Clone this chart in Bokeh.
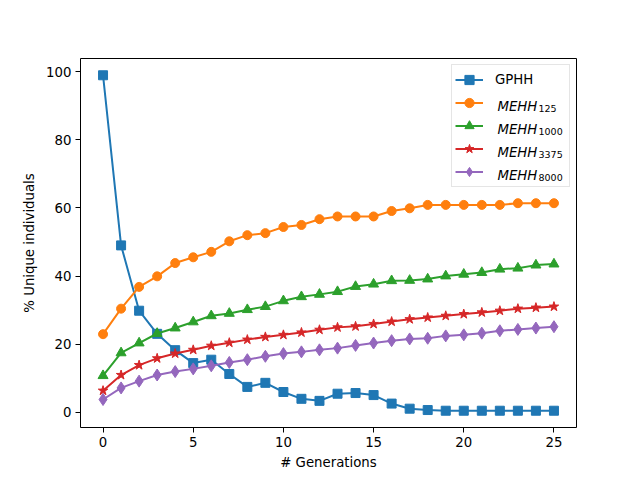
from bokeh.plotting import figure
from bokeh.models import Range1d, Legend, LegendItem, Label, FixedTicker
from bokeh.embed import file_html
from bokeh.resources import INLINE

generations = list(range(26))
gphh = [99.0, 49.0, 29.8, 23.0, 18.2, 14.4, 15.4, 11.2, 7.4, 8.6, 5.9, 3.9, 3.3,
        5.4, 5.6, 5.0, 2.5, 1.0, 0.6, 0.4, 0.4, 0.4, 0.4, 0.4, 0.4, 0.4]
mehh125 = [22.9, 30.4, 36.8, 39.9, 43.8, 45.5, 47.1, 50.2, 52.0, 52.6, 54.4, 55.0, 56.7,
           57.5, 57.5, 57.5, 59.1, 59.9, 60.9, 60.9, 60.9, 60.9, 60.9, 61.4, 61.4, 61.4]
mehh1000 = [10.7, 17.4, 20.3, 23.1, 24.7, 26.5, 28.3, 29.0, 30.1, 31.0, 32.7, 33.9, 34.6,
            35.4, 36.9, 37.6, 38.6, 38.7, 39.1, 40.0, 40.5, 41.0, 42.0, 42.3, 43.2, 43.5]
mehh3375 = [6.3, 10.9, 13.8, 15.8, 17.2, 18.3, 19.5, 20.4, 21.3, 22.1, 22.7, 23.4, 24.2,
            24.9, 25.2, 25.9, 26.6, 27.3, 27.8, 28.3, 28.8, 29.3, 29.8, 30.4, 30.7, 31.0]
mehh8000 = [3.7, 7.1, 9.1, 10.9, 11.9, 12.7, 13.6, 14.6, 15.4, 16.4, 17.2, 17.7, 18.3,
            18.8, 19.6, 20.3, 21.0, 21.5, 21.7, 22.4, 22.7, 23.2, 23.9, 24.3, 24.7, 25.1]

series = [
    ("GPHH", None, gphh, "#1f77b4", "square", 9),
    ("MEHH", "125", mehh125, "#ff7f0e", "circle", 9),
    ("MEHH", "1000", mehh1000, "#2ca02c", "triangle", 10),
    ("MEHH", "3375", mehh3375, "#d62728", "star", 10),
    ("MEHH", "8000", mehh8000, "#9467bd", "diamond", 12),
]

x_ticks = [0, 5, 10, 15, 20, 25]
y_ticks = [0, 20, 40, 60, 80, 100]

all_y = gphh + mehh125 + mehh1000 + mehh3375 + mehh8000
ymin, ymax = min(all_y), max(all_y)
ypad = 0.05 * (ymax - ymin)
xmin, xmax = min(generations), max(generations)
xpad = 0.05 * (xmax - xmin)

FONT = "DejaVu Sans"

p = figure(width=640, height=480, output_backend="svg", toolbar_location=None,
           x_range=Range1d(xmin - xpad, xmax + xpad),
           y_range=Range1d(ymin - ypad, ymax + ypad),
           min_border_left=80, min_border_right=64, min_border_top=58, min_border_bottom=53)
p.xgrid.visible = False
p.ygrid.visible = False
p.outline_line_color = "black"
p.outline_line_width = 1
p.background_fill_color = "white"
p.border_fill_color = "white"

for ax in (p.xaxis[0], p.yaxis[0]):
    ax.axis_line_color = None
    ax.major_tick_out = 5
    ax.major_tick_in = 0
    ax.minor_tick_line_color = None
    ax.major_tick_line_color = "black"
    ax.major_label_text_font = FONT
    ax.major_label_text_font_size = "13.3px"
    ax.major_label_text_color = "black"
    ax.axis_label_text_font = FONT
    ax.axis_label_text_font_size = "13.3px"
    ax.axis_label_text_font_style = "normal"
    ax.axis_label_text_color = "black"
    ax.major_label_standoff = 4

p.xaxis[0].ticker = FixedTicker(ticks=x_ticks)
p.yaxis[0].ticker = FixedTicker(ticks=y_ticks)
p.xaxis[0].axis_label = "# Generations"
p.yaxis[0].axis_label = "% Unique individuals"
p.xaxis[0].axis_label_standoff = 5
p.yaxis[0].axis_label_standoff = 6

items = []
for name, sub, ys, color, marker, size in series:
    ln = p.line(generations, ys, line_color=color, line_width=2)
    sc = p.scatter(generations, ys, marker=marker, size=size, fill_color=color,
                   line_color=color, line_width=1)
    items.append(LegendItem(label=name if sub is None else " ", renderers=[ln, sc]))

legend = Legend(items=items, location="top_right", margin=6, padding=3, spacing=0,
                glyph_height=23, glyph_width=28, label_height=23, label_width=71,
                label_standoff=12, label_text_font=FONT, label_text_font_size="13.3px",
                label_text_color="black",
                border_line_color="#cccccc", border_line_width=1,
                background_fill_color=None)
p.add_layout(legend, "center")

# subscripted legend labels (MEHH with subscript)
row_base = 344.2
for i, (name, sub, ys, color, marker, size) in enumerate(series):
    if sub is None:
        continue
    yb = row_base - 23 * i
    p.add_layout(Label(x=417, y=yb, x_units="screen", y_units="screen", text=name,
                       text_font=FONT, text_font_size="13.3px", text_font_style="italic",
                       text_baseline="alphabetic", text_align="left", text_color="black",
                       level="overlay"))
    p.add_layout(Label(x=458, y=yb - 2.5, x_units="screen", y_units="screen", text=sub,
                       text_font=FONT, text_font_size="9.5px",
                       text_baseline="alphabetic", text_align="left", text_color="black",
                       level="overlay"))

open("out.html", "w").write(file_html(p, INLINE))
